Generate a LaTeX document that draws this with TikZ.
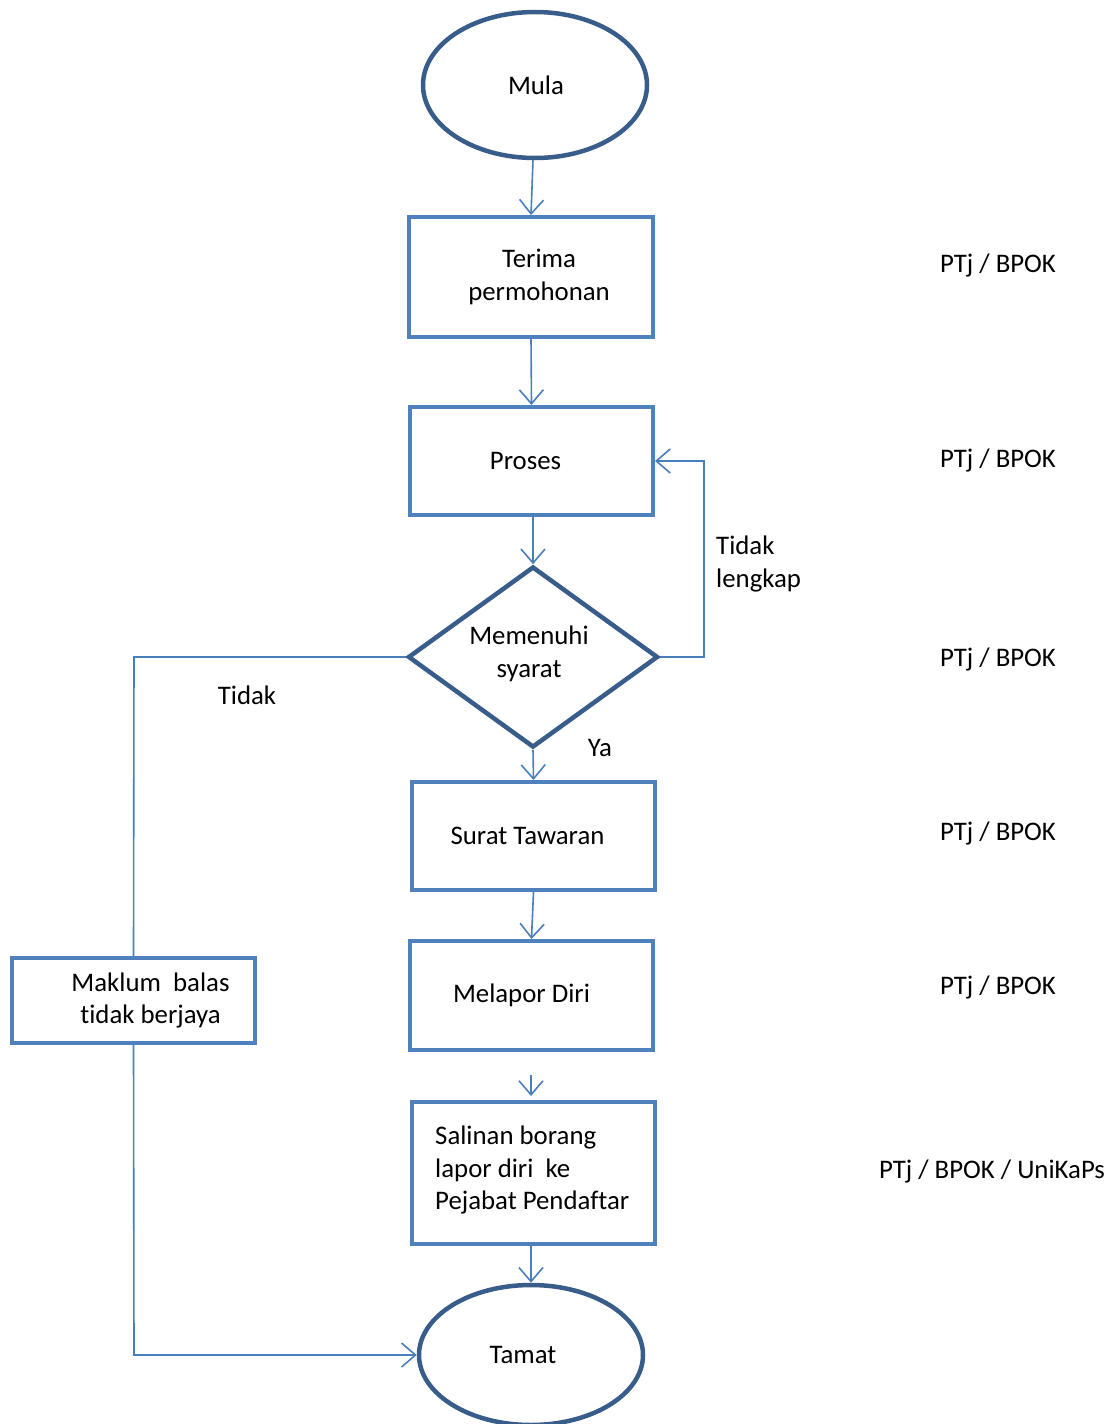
\documentclass[tikz,border=0pt]{standalone}
\usepackage{fontspec}
\setmainfont[Ligatures=NoCommon]{Carlito}
\usetikzlibrary{arrows.meta,shapes.geometric}
\definecolor{boxblue}{HTML}{4F81BD}
\definecolor{darkblue}{HTML}{385D8A}
\definecolor{lineblue}{HTML}{4A7EBB}
\begin{document}
\begin{tikzpicture}[x=1pt,y=-1pt,
  every node/.style={font=\fontsize{26.8}{32.5}\selectfont, text=black},
  procbox/.style={draw=boxblue, line width=4pt, rectangle, inner sep=0pt, align=center},
  termin/.style={draw=darkblue, line width=4.5pt, ellipse, inner sep=0pt},
  decide/.style={draw=darkblue, line width=4.5pt, diamond, inner sep=0pt, aspect=1.38, align=center},
  conn/.style={draw=lineblue, line width=1.6pt},
  arr/.style={conn, -{Straight Barb[length=14pt,width=24pt,line width=1.6pt]}},
  lbl/.style={inner sep=0pt}
]
\useasboundingbox (0,0) rectangle (1117,1424);

\node[termin, minimum width=224pt, minimum height=146pt] (mula) at (535,85) {\hspace*{2pt}Mula};
\node[procbox, minimum width=244pt, minimum height=120pt] (terima) at (531,277) {\hspace*{16pt}Terima\\\hspace*{16pt}permohonan};
\node[procbox, minimum width=243pt, minimum height=108pt] (proses) at (531.5,461) {\hspace*{-12pt}Proses};
\node[decide, minimum width=250pt, minimum height=181pt] (syarat) at (533,657) {};
\node[lbl, align=center] (syaratt) at (529,654) {Memenuhi\\syarat};
\node[procbox, minimum width=243pt, minimum height=108pt] (surat) at (533.5,836) {\hspace*{-12pt}Surat Tawaran};
\node[procbox, minimum width=243pt, minimum height=109pt] (melapor) at (531.5,995.5) {\hspace*{-20pt}Melapor Diri};
\node[procbox, minimum width=243pt, minimum height=142pt] (salinan) at (533.5,1173) {};
\node[lbl, align=left, anchor=west] (salinant) at (435,1170) {Salinan borang\\lapor diri~~ke\\Pejabat Pendaftar};
\node[termin, minimum width=224pt, minimum height=140pt] (tamat) at (531,1355) {\hspace*{-16pt}Tamat};
\node[procbox, minimum width=243pt, minimum height=85pt] (maklum) at (133.5,1000.5) {\hspace*{34pt}Maklum~~balas\\\hspace*{34pt}tidak berjaya};

% side labels
\node[lbl] (r1) at (998,265) {PTj / BPOK};
\node[lbl] (r2) at (998,460) {PTj / BPOK};
\node[lbl] (r3) at (998,659) {PTj / BPOK};
\node[lbl] (r4) at (998,833) {PTj / BPOK};
\node[lbl] (r5) at (998,987) {PTj / BPOK};
\node[lbl] (r6) at (992,1171) {PTj / BPOK / UniKaPs};

\node[lbl] (tidak) at (247,695) {Tidak};
\node[lbl, align=left, anchor=west] (tlengkap) at (716,564) {Tidak\\lengkap};
\node[lbl] (ya) at (600,748) {Ya};

% connectors
\coordinate (c1) at (704,657);
\coordinate (c2) at (704,461);
\coordinate (c3) at (134,657);
\coordinate (c4) at (134,1355);
\coordinate (f1) at (531,1075);
\coordinate (f2) at (531,1096);

\draw[arr] (mula.south) ++(-2,0) -- (terima.north);
\draw[arr] (terima.south) -- (proses.north);
\draw[arr] (proses.south) ++(1.5,0) -- (syarat.north);
\draw[arr] (syarat.east) -- (c1) -- (c2) -- (proses.east);
\draw[arr] (syarat.south) -- (surat.north);
\draw[arr] (surat.south) -- (melapor.north);
\draw[arr] (f1) -- (f2);
\draw[arr] (salinan.south) ++(-2.5,0) -- (tamat.north);
\draw[conn] (syarat.west) -- (c3) -- (maklum.north);
\draw[arr] (maklum.south) -- (c4) -- (tamat.west);
\end{tikzpicture}
\end{document}
